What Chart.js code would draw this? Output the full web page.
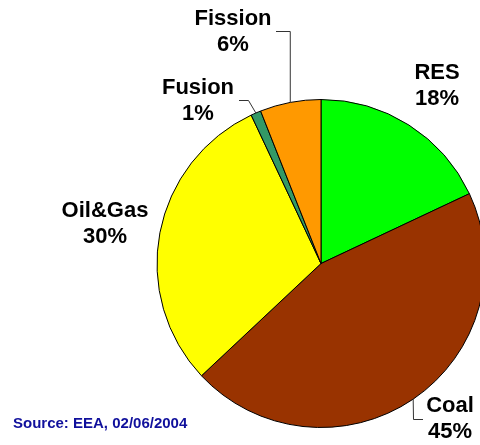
<!DOCTYPE html>
<html>
<head>
<meta charset="utf-8">
<script src="https://cdn.jsdelivr.net/npm/chart.js@4/dist/chart.umd.min.js"></script>
<style>
  html, body { margin: 0; padding: 0; background: #fff; }
  #wrap { position: relative; width: 480px; height: 445px; }
  #source {
    position: absolute; left: 13px; top: 414px;
    font: bold 15px "Liberation Sans", Arial, sans-serif;
    color: #10109c;
  }
</style>
</head>
<body>
<div id="wrap">
  <canvas id="pie" width="480" height="445"></canvas>
  <div id="source">Source: EEA, 02/06/2004</div>
</div>
<script>
// ============================
// DATA
// ============================
const labels = ['RES', 'Coal', 'Oil&Gas', 'Fusion', 'Fission'];
const shares = [18, 45, 30, 1, 6];
const colors = ['#00FF00', '#993300', '#FFFF00', '#339966', '#FF9900'];

// label text placement (centre x, first line centre y) and leader style
const labelSpots = [
    { x: 437, y: 73, leader: null },
    { x: 450, y: 406, leader: 'coal' },
    { x: 105, y: 211, leader: null },
    { x: 198, y: 88, leader: 'fusion' },
    { x: 233, y: 19, leader: 'fission' }
];

const labelPlugin = {
    id: 'sliceLabels',
    afterDatasetsDraw(chart) {
        const ctx = chart.ctx;
        const meta = chart.getDatasetMeta(0);

        ctx.save();

        meta.data.forEach((arc, i) => {
            const p = arc.getProps(['x', 'y', 'startAngle', 'endAngle', 'outerRadius'], true);
            const mid = (p.startAngle + p.endAngle) / 2;
            const ex = p.x + Math.cos(mid) * p.outerRadius;
            const ey = p.y + Math.sin(mid) * p.outerRadius;
            const spot = labelSpots[i];

            // leader lines
            ctx.strokeStyle = '#333';
            ctx.lineWidth = 1;
            ctx.beginPath();
            if (spot.leader === 'fission') {
                ctx.moveTo(ex, ey);
                ctx.lineTo(ex, 31.5);
                ctx.lineTo(276, 31.5);
            } else if (spot.leader === 'fusion') {
                ctx.moveTo(ex, ey);
                ctx.lineTo(248.5, 100.5);
                ctx.lineTo(239, 100.5);
            } else if (spot.leader === 'coal') {
                ctx.moveTo(ex, ey);
                ctx.lineTo(413.5, 419.5);
                ctx.lineTo(423, 419.5);
            }
            ctx.stroke();

            // text
            ctx.fillStyle = '#000';
            ctx.font = 'bold 22px "Liberation Sans", Arial, sans-serif';
            ctx.textAlign = 'center';
            ctx.textBaseline = 'middle';
            ctx.fillText(labels[i], spot.x, spot.y);
            ctx.fillText(shares[i] + '%', spot.x, spot.y + 26);
        });

        ctx.restore();
    }
};

new Chart(document.getElementById('pie').getContext('2d'), {
    type: 'pie',
    data: {
        labels: labels,
        datasets: [{
            data: shares,
            backgroundColor: colors,
            borderColor: '#000',
            borderWidth: 1
        }]
    },
    options: {
        responsive: false,
        animation: false,
        radius: 164,
        layout: {
            padding: { left: 162, right: 0, top: 82, bottom: 0 }
        },
        plugins: {
            legend: { display: false },
            tooltip: { enabled: false }
        }
    },
    plugins: [labelPlugin]
});
</script>
</body>
</html>
